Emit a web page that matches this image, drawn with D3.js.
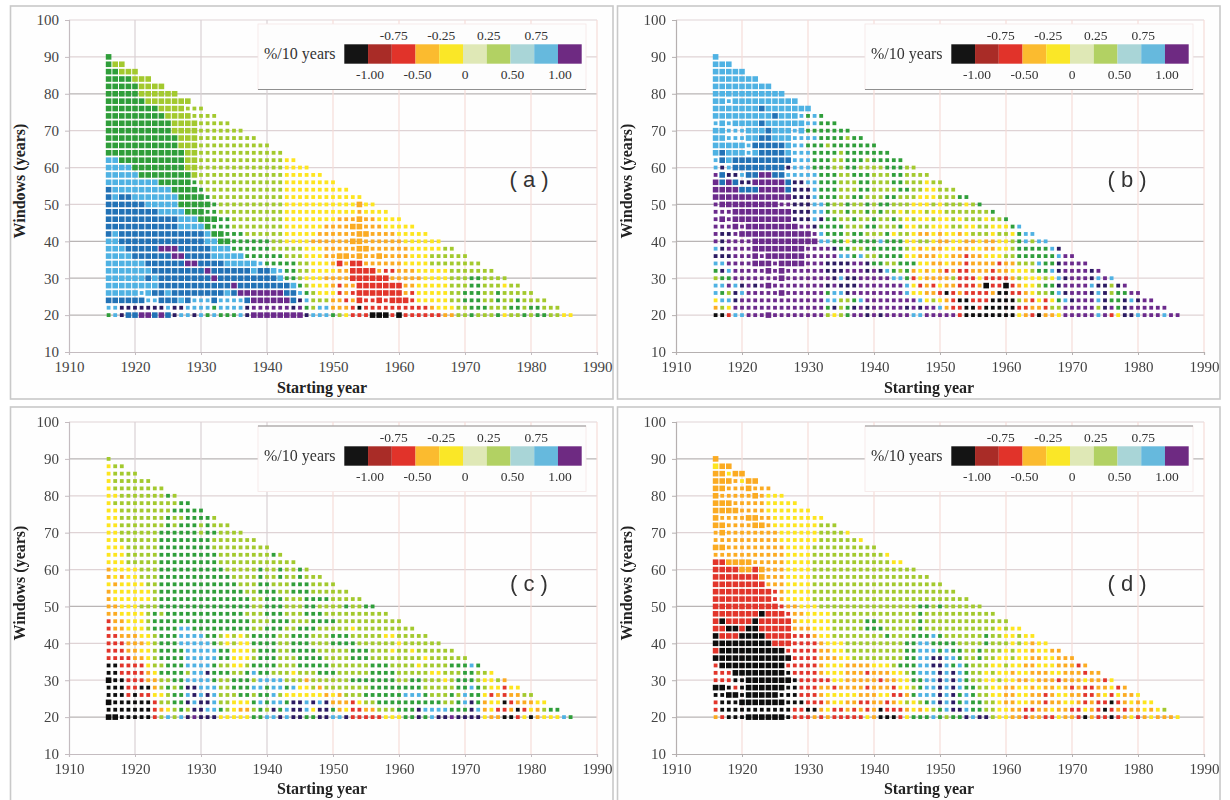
<!DOCTYPE html>
<meta charset="utf-8">

<style>
  html, body { margin: 0; background: #fff; }
  svg { display: block; filter: blur(.4px); }
  .tick text { font: 15px "Liberation Serif", serif; fill: #444; }
  .legend text { font: 13.5px "Liberation Serif", serif; fill: #333; }
  .legend text.unit { font-size: 16px; }
  .title { font: bold 16px "Liberation Serif", serif; fill: #222; }
  .tag { font: 22px "Liberation Sans", sans-serif; fill: #333; }
</style>

<body>
<svg id="chart" width="1230" height="800"></svg>
<script src="https://d3js.org/d3.v7.min.js"></script>
<script>

  // windows (years), top row first
  const windows = [90,88,86,84,82,80,78,76,74,72,70,68,66,64,62,60,58,56,54,52,50,48,46,44,42,40,38,36,34,32,30,28,26,24,22,20];
  const firstStart = 1916;
  const xTicks = [1910,1920,1930,1940,1950,1960,1970,1980,1990];
  const yTicks = [10,20,30,40,50,60,70,80,90,100];

  // each row reads from 1916 onward: class letter + run length, capital = big square
  const panelARows = [
    "G1","G1 L2","G2 L3","G4 L3","G5 L4","G5 L6","G6 L7","G8 L4 l3","G9 L4 l4","G10 L4 l5","G10 L4 l7","G11 L3 l9",
    "G11 L3 l11","G12 L2 l13","S2 G10 L2 l13 y2","S4 G8 L2 l13 y4","S5 G8 L1 l13 y6","S8 G5 g1 l13 y8","B1 S9 G4 g1 l12 y10",
    "B1 S1 B2 S7 G4 g1 l11 y12","B6 S5 G5 g1 l10 y11 O1 y2","B8 S4 G3 g2 l10 y11 o1 y4","B11 S3 G3 g2 l8 y8 o3 O1 o2 y4",
    "B11 S4 G1 g3 l8 y6 o4 O2 o3 y5","B1 S1 B13 S1 G2 g3 l6 y5 o6 O2 o4 y5","S2 B13 S2 G2 g6 l2 y4 o6 O2 o6 y6",
    "S3 B5 V3 B5 S3 g6 l5 y3 o5 O2 o6 y5 l2","S4 B6 V2 B4 S5 g6 l3 y3 o2 O2 o1 O1 o2 O1 o4 y3 l6",
    "S6 B6 V2 B4 S5 s1 g5 l2 y3 o1 R1 o1 R2 o6 y4 l8","S7 B8 V1 B6 S1 B2 S1 s1 g2 l2 y4 o2 R4 o1 r2 o3 y5 l7",
    "S6 B1 S1 B8 V1 B9 S1 g2 l1 y3 o4 R6 o5 y4 l3 g2 l4","S8 B11 V1 B8 S1 g1 l1 y3 o1 r1 o2 R7 o2 y5 l3 g2 l3 y1 l2",
    "S5 s1 S1 B2 S1 B8 S1 B1 V7 B2 s1 g1 l1 y3 r1 o1 r1 R7 o1 r1 y5 l2 g3 l2 g1 l3 l2",
    "B6 s2 B3 S1 B1 s3 B1 s4 B1 V6 B1 n1 s1 l3 o2 r1 o1 R1 r2 R1 r1 R3 r1 y5 l2 g3 l2 g1 l2 g1 l2 l2",
    "s2 n7 s1 n2 s4 g1 s4 n1 v6 n1 v1 g1 l1 s2 o3 r1 k1 r10 o1 y3 l2 g3 l3 g2 l1 g2 l3",
    "g1 s1 n1 B2 V2 B1 V1 B1 n1 s2 n1 s1 g1 s1 g3 s1 n1 V8 n1 s3 g1 l1 y1 r3 K3 r1 K1 r6 o2 l2 g1 l3 g1 y1 l2 g1 l1 g2 l2 y2"
  ];

  const panelBRows = [
    "S1","S3","S5","S7","S9","S11","S2 s1 S10","S7 B1 S7","S9 B1 S3 s1 g1 s1 g1","s1 S1 s1 S4 B1 S6 s2 g3",
    "S2 s3 S3 B1 S3 s1 S1 g7","S2 s3 S2 B2 S3 s4 g4 l1 g2","S5 s1 B5 S1 s2 g3 l1 g7","S1 B1 S3 s1 S1 B4 S1 s3 g4 l1 g7",
    "s1 B1 S1 B9 s3 g3 l2 g3 l1 g5","s1 n1 s1 B8 n1 s3 g3 l2 g2 l4 g3 l2","v1 B1 n2 s1 B2 V2 B2 s5 g3 l2 g3 l3 g2 l4",
    "V1 B1 V1 B1 n2 V5 B1 n2 s2 g3 l3 g2 l3 g2 l3 y1 l2","V4 B3 V4 B1 n2 n1 s1 g3 l3 g2 l4 g2 l2 y2 l3",
    "V12 n3 s1 g3 l2 g2 l3 g2 l3 y3 l3 g2","v1 V9 v2 n3 s2 g1 l2 g1 l2 g1 l1 g2 l3 y2 y1 l1 y1 l3 y1 l1 g1",
    "v3 V9 n3 s2 g1 l2 g1 l2 g1 l1 g1 l2 y1 l1 y2 l1 y1 y1 l2 l3 l2 g1",
    "v1 V1 v1 V9 n3 s1 n1 g2 l2 g1 l2 g1 l2 g1 l1 y1 l1 y2 l1 y2 l1 y1 l3 y1 l2 g1",
    "v3 V1 v1 V8 v2 n1 g4 l3 g2 l3 g1 y2 l2 y3 l2 y2 l2 y3 g1 s1",
    "v1 n2 v1 V11 v1 s1 g3 l1 g2 l3 g1 y1 l2 y1 o2 y1 o1 y2 o1 y1 l3 y1 l2 y1 g1 s2",
    "v1 n1 v4 V10 s2 g2 y1 g4 s1 g3 y2 l1 l1 y1 o2 y2 o2 y1 o2 y2 l1 g1 s1 l1 s2",
    "s1 n1 v4 V8 v4 n1 g2 l2 g6 l1 y1 o1 y1 o2 y2 o2 y2 o2 y2 l1 g5 s1 n1",
    "n3 v3 V1 v1 V6 v5 s2 g1 s1 l2 g1 g3 y2 o1 o2 y2 o2 r1 o2 y3 l2 g6 s1 v2",
    "s2 v4 V3 v1 V4 v3 n4 v2 n1 g2 l2 g1 g2 y2 o2 y1 o2 r1 o3 o1 r1 o2 l3 s1 g2 n1 v4",
    "g1 n1 s1 v5 V1 v1 V1 v6 n3 v3 n1 v1 n1 s1 g1 l1 g1 o1 y1 o1 y1 o1 r1 o1 r2 o3 r1 o2 y3 l1 g2 s1 n1 v4 n1 v1",
    "l1 g2 v7 V1 v6 v1 n1 s1 n2 v5 s2 g1 r1 y1 o4 l1 r3 y1 r4 o1 l1 y3 l1 y1 s1 n1 v3 n1 s1 v1 s1",
    "s2 v1 s1 n1 v1 n1 v1 V1 v8 n1 v1 n3 v6 v1 s1 y1 r1 o1 r1 y1 o2 r3 o1 K1 r2 K1 r1 o1 y2 l1 g2 n1 v3 v1 s1 n1 n1 l1 n1 v1",
    "s1 g1 l1 n1 s1 v5 V1 v6 g1 s2 n1 v8 s1 y2 o2 r1 k1 r1 o1 r4 o1 k2 r2 o1 y1 l2 g1 s1 n1 v3 n1 s1 n1 l1 g2 v2",
    "y1 s2 n1 v13 s2 l2 g1 s1 v5 v3 s1 y1 l1 y1 o1 r1 k2 r3 k4 l1 o1 r1 y1 r1 y1 g1 s1 n1 v3 s1 n1 g2 n1 s1 n1 v2",
    "o1 l1 y1 v14 g1 n1 l1 g1 n1 v1 n1 v5 n1 v1 n1 v2 s1 o1 r2 k2 r1 k5 r2 o2 r1 l2 v5 l1 n1 v1 g1 n1 v6",
    "k2 r1 s2 v3 V1 v8 l1 y1 l1 g1 v2 n1 v1 n1 v4 s2 v5 r1 k8 y1 o1 r1 k1 o2 y1 v5 s1 v1 r1 y1 n2 s1 v3 s1 v2"
  ];

  const panelCRows = [
    "l1","y1 l2","y1 l4","y1 l6","y1 l8","y2 l7 g1 l1","y1 l10 g2","y2 l8 g5","y2 l7 g1 l2 g4 l1","y2 l7 g1 l1 g3 l1 g1 l3",
    "y2 l6 g6 l1 g2 l4","y2 l6 g8 l7","y3 l5 g8 l9","y3 l5 g9 l8 g1 l1","y3 l5 g9 l12","o1 y4 l3 g10 l5 g1 l2 g1 l2 g1 l1",
    "o1 y1 o1 y2 l3 g11 l4 g1 l2 g1 l2 g1 l3","y1 o1 y4 l2 g12 l3 g2 l3 g3 l4","o1 y6 l1 g13 l2 g3 l2 g3 l6",
    "o1 y6 l1 g14 l2 g3 l3 g4 l5","o2 y3 l3 g14 l2 g3 l3 g2 l4 g1 l2 g2","o2 y4 l1 g1 l1 g12 l3 g3 l3 g3 l10",
    "r1 o2 y3 l1 g15 l3 g3 l3 g4 l10","r1 o2 y3 l1 g4 s2 g9 l2 g3 l2 g3 l5 y1 l9",
    "r2 o3 y2 l1 g3 s4 g2 l1 y1 l1 y1 l1 g4 l2 g3 l3 g3 l5 y2 l5",
    "r3 o3 y1 l1 g3 s5 g1 l1 y1 l1 y2 g4 l2 g3 l3 g4 l6 y1 l6",
    "r3 o2 y2 l1 g4 s5 g2 y3 l1 g3 l2 g4 l5 g3 l3 y1 l2 y1 l6",
    "r4 o2 y1 l1 g4 s5 g2 y3 l1 g3 l3 g4 l4 g3 l8 y1 l2 l4",
    "k2 r4 y1 l2 g3 s4 g1 l2 y2 l1 g4 l3 g5 l6 g3 l4 y1 l4 g3 s1 g1",
    "k2 r4 o1 y1 g4 l1 s2 n1 g3 l2 g1 s1 g2 l3 y1 l3 g3 l5 g4 l5 y2 l3 g2 l2 y1",
    "K1 k2 r3 o2 l2 g2 s4 g1 l2 g3 l1 s4 l3 o1 l6 g7 l2 g2 l3 y1 l1 g3 l1 y2 l1 o1",
    "k3 r2 k2 o1 l1 g1 l1 g1 n2 s3 l2 g3 s2 g1 s2 g1 s1 y2 l1 o1 l7 g8 l5 g2 s1 g1 l1 y2 r1 y2",
    "k3 r1 k1 r2 y2 l1 g2 s1 n1 s1 n1 s1 l3 g2 l1 g2 s1 l1 y6 o1 y1 o1 l3 g6 s3 g1 l3 g1 l1 s1 g2 y1 r1 o1 r1 o2 l2",
    "K1 k6 r1 l2 g1 g1 n1 s1 n2 s1 l2 y3 g1 s1 g1 s2 g1 n2 s1 n1 s1 n1 o2 o1 r1 y1 l2 g10 l2 g1 s1 n1 g1 o1 y2 k1 r1 o3 y2",
    "k7 r1 o1 y1 l1 g1 l1 n2 s2 g1 l1 y1 o2 l1 g1 l1 n1 g1 s1 n2 s1 y1 n2 g1 o1 y1 r2 o2 l3 g3 n1 s4 g3 n1 s1 o1 y1 r2 o1 k1 r1 y1 o1 l1 g2",
    "K2 k5 r1 l1 s1 l1 s1 n1 v1 n3 y5 g2 s2 n1 s1 n2 g2 n2 s2 n1 r5 y3 g2 n1 g1 s1 n2 v1 n4 y1 o2 k2 r1 y1 k1 o1 y3 s1 g1"
  ];

  const panelDRows = [
    "O1","Y1 O2","O2 y1 O2","O3 o1 y1 O2","O2 o3 O1 o3","O1 o5 O1 o1 y3","O3 o5 y5","O4 o4 y7","O1 o4 O2 o2 y8","O2 o4 O2 o1 y7 l3",
    "o1 O1 o8 y6 l4 y1","o10 y6 l6 y1","O2 o9 y4 l10","o11 y4 l11 y1","R2 O4 o5 y4 l12 y2","R4 O2 R1 O1 o3 y4 l16",
    "R7 O1 o3 y4 l18","R8 o3 y4 l20","R9 r1 o1 y4 l22","R9 r1 o1 y4 l24","R10 r1 o2 y3 l15 g2 l1 g1 l6",
    "R7 K1 R3 r1 o2 y4 l13 g1 l11","R1 K1 R4 K1 R5 o1 y5 l5 g2 l6 g1 l13","R2 K2 R1 K2 R5 o3 y3 l5 g3 l5 g1 l11 y1 l1 y2",
    "K1 R3 K4 R4 r3 o1 y2 l8 g1 l3 g3 s1 g1 l6 g1 l2 y2 l1 y2",
    "K9 R3 r4 o1 y3 l9 g2 s2 g2 g2 l4 g1 l3 y1 l1 y1 o1 y2",
    "R1 K10 r5 o2 y2 l9 g2 s3 g1 s1 g2 l2 g1 l3 y1 l1 y2 o1 y2 o2",
    "K12 r4 o3 y2 l8 g2 s2 n2 s2 g1 l2 g1 l2 y2 l1 y2 o2 y2 o3",
    "r1 K10 r5 o1 y3 o4 y3 l1 g3 s2 n2 s1 g1 s1 g1 l3 y2 l1 y2 o2 y3 o3 r1 o1",
    "r3 K8 k1 r4 o1 y3 o3 r1 o3 y2 l1 g1 s3 n1 s1 n1 s1 g1 l2 y1 l1 y2 o1 y2 o3 y2 o3 r1 o2",
    "r3 k2 K7 k1 r5 y2 o5 r1 o2 y2 g2 s2 n1 s1 n1 s1 g1 l2 y2 l1 y2 o2 y1 o3 r1 o3 y1 o2 r1 y1",
    "K2 k1 r1 k1 K6 k2 r3 o2 r1 o4 r1 o3 r1 y2 l1 g1 s2 n1 s1 n1 s1 g2 l2 y2 o2 y2 o1 y1 o2 y1 o1 r1 o1 r2 o2 y1 r1 o1",
    "k2 K2 k1 K5 k3 r3 o1 y5 o3 y2 r2 o1 g1 s2 s1 n1 s1 n1 g1 s1 g1 l2 y2 o2 y2 o2 r1 o1 y2 o2 r2 o1 y1 r1 y1 o2 y1",
    "r1 k3 K7 k3 r3 o1 y2 o2 r2 o2 r1 o1 y1 l1 y1 l1 g1 s1 n1 s1 n1 g1 s1 g2 l2 y1 o2 y2 o2 r1 o2 y2 o1 r1 o1 r2 k1 r1 o1 y1 o1 y2",
    "r1 k11 r2 k2 o1 y1 r2 o1 r1 o1 r1 o1 k1 r3 o1 y1 o1 y1 l1 g1 s1 n2 s1 g2 l2 y2 o2 r2 o2 y1 o2 r2 y1 o1 r1 k1 r1 o1 r1 o2 y1 o1 y1 l1",
    "o1 r1 k3 K6 k1 r3 o1 r1 o1 r5 y1 o1 k3 r1 y1 g3 s1 g1 l1 g2 n1 s1 n2 l1 y2 o2 r1 o2 r2 y1 o2 r1 k1 o1 r2 k1 r1 o1 y1 r1 o1 y1 o3 y1"
  ];

  // trend classes as they appear in the squares
  const classKeys = ['k','r','o','y','l','g','s','b','v','n'];
  const classColors = ['#0d0d0d','#e2352b','#fbab22','#fde51f','#a3c92e','#2f9e3a','#4fb2e3','#2272b6','#6b2a8c','#2b1a62'];
  const color = d3.scaleOrdinal(classKeys, classColors);

  // colour key
  const legendColors = ['#141414','#a92c27','#e1332a','#fbbb2f','#fae727','#dfe8b6','#b2d163','#a9d5d7','#66b9dd','#6e2a82'];
  const legendBottom = ['-1.00','-0.50','0','0.50','1.00'];
  const legendTop = ['-0.75','-0.25','0.25','0.75'];

  const panels = [
    {tag: '( a )', rows: panelARows, left: 69, top: 20, titleY: 373, frameTop: -14, tagX: 460, tagY: 167, legendLine: 'bottom', darkGrid: [80,40,30,20,10], pinkFrom: 1950},
    {tag: '( b )', rows: panelBRows, left: 676, top: 20, titleY: 373, frameTop: -14, tagX: 451, tagY: 167, legendLine: 'bottom', darkGrid: [80,50,40,10], pinkFrom: 1910},
    {tag: '( c )', rows: panelCRows, left: 69, top: 422, titleY: 372, frameTop: -15, tagX: 460, tagY: 169, legendLine: 'top', darkGrid: [90,50,20,10], pinkFrom: 1950},
    {tag: '( d )', rows: panelDRows, left: 676, top: 422, titleY: 372, frameTop: -15, tagX: 451, tagY: 169, legendLine: 'top', darkGrid: [90,50,20,10], pinkFrom: 1910}
  ];

  const width = 528, height = 332;
  const x = d3.scaleLinear().domain([1910, 1990]).range([0, width]);
  const y = d3.scaleLinear().domain([10, 100]).range([height, 0]);
  const bar = d3.scaleBand().domain(legendColors).range([275.3, 512.7]);

  function parseRow(row, w) {
    const cells = [];
    let year = firstStart;
    row.split(' ').forEach(run => {
      const letter = run[0];
      const count = +run.slice(1);
      for (let i = 0; i < count; i++) {
        cells.push({year: year++, w: w, cls: letter.toLowerCase(), big: letter !== letter.toLowerCase()});
      }
    });
    return cells;
  }

  const svg = d3.select('#chart');

  panels.forEach(panel => {
    const g = svg.append('g').attr('transform', `translate(${panel.left},${panel.top})`);

    // frame, the lower two run off the bottom of the picture
    g.append('rect')
      .attr('x', -58.5).attr('y', panel.frameTop)
      .attr('width', 602.5).attr('height', panel.top === 20 ? 393 : 420)
      .attr('fill', '#fefefe').attr('stroke', '#c9c9c9').attr('stroke-width', 1.6);

    // grid
    g.selectAll('.gridH').data(yTicks.slice(1)).enter().append('line')
      .attr('x1', 0).attr('x2', width)
      .attr('y1', d => y(d)).attr('y2', d => y(d))
      .attr('stroke', d => panel.darkGrid.includes(d) ? '#b9b5b5' : '#dfd3d5')
      .attr('stroke-width', 1.2);
    g.selectAll('.gridV').data(xTicks.slice(1)).enter().append('line')
      .attr('y1', 0).attr('y2', height)
      .attr('x1', d => x(d)).attr('x2', d => x(d))
      .attr('stroke', d => d >= panel.pinkFrom ? '#f5dcd8' : '#d9d0d4')
      .attr('stroke-width', 1.2);

    // axes
    const axisColor = panel.pinkFrom === 1910 ? '#b5b0b0' : '#c4bcc0';
    const xAxis = g.append('g').attr('transform', `translate(0,${height})`)
      .call(d3.axisBottom(x).tickValues(xTicks).tickFormat(d3.format('d')).tickSize(3).tickPadding(6));
    const yAxis = g.append('g')
      .call(d3.axisLeft(y).tickValues(yTicks).tickSize(4).tickPadding(6));
    [xAxis, yAxis].forEach(a => {
      a.selectAll('.domain').attr('stroke', axisColor).attr('stroke-width', 1.2);
      a.selectAll('.tick line').attr('stroke', axisColor);
    });

    // squares
    const cells = [];
    panel.rows.forEach((row, i) => cells.push(...parseRow(row, windows[i])));
    g.selectAll('.cell').data(cells).enter().append('rect')
      .attr('class', 'cell')
      .attr('x', d => x(d.year) - (d.big ? 2.8 : 1.9))
      .attr('y', d => y(d.w) - (d.big ? 2.8 : 1.9))
      .attr('width', d => d.big ? 5.6 : 3.8)
      .attr('height', d => d.big ? 5.6 : 3.8)
      .attr('fill', d => color(d.cls));

    // legend box
    const legend = g.append('g').attr('class', 'legend');
    legend.append('rect')
      .attr('x', 189).attr('y', 4).attr('width', 328).attr('height', 65.5)
      .attr('fill', '#fdfdfd').attr('stroke', '#f6e6e6').attr('stroke-width', .8);
    const lineY = panel.legendLine === 'bottom' ? 69.5 : 4;
    legend.append('line')
      .attr('x1', 189).attr('x2', 517).attr('y1', lineY).attr('y2', lineY)
      .attr('stroke', '#8f8f8f').attr('stroke-width', 1.2);
    legend.selectAll('.swatch').data(legendColors).enter().append('rect')
      .attr('x', d => bar(d)).attr('y', 24.3)
      .attr('width', bar.bandwidth()).attr('height', 19.4)
      .attr('fill', d => d);
    legend.append('text').attr('class', 'unit').attr('x', 195).attr('y', 39).text('%/10 years');
    legend.selectAll('.lab').data(legendBottom).enter().append('text')
      .attr('x', (d, i) => bar(legendColors[i * 2 + 1]) + 2)
      .attr('y', 59).attr('text-anchor', 'middle').text(d => d);
    legend.selectAll('.lab2').data(legendTop).enter().append('text')
      .attr('x', (d, i) => bar(legendColors[i * 2 + 2]) + 2)
      .attr('y', 20).attr('text-anchor', 'middle').text(d => d);

    // titles
    g.append('text').attr('class', 'title')
      .attr('x', 253).attr('y', panel.titleY).attr('text-anchor', 'middle')
      .text('Starting year');
    g.append('text').attr('class', 'title')
      .attr('transform', 'translate(-44,161) rotate(-90)').attr('text-anchor', 'middle')
      .text('Windows (years)');
    g.append('text').attr('class', 'tag')
      .attr('x', panel.tagX).attr('y', panel.tagY).attr('text-anchor', 'middle')
      .text(panel.tag);
  });

</script>
</body>
